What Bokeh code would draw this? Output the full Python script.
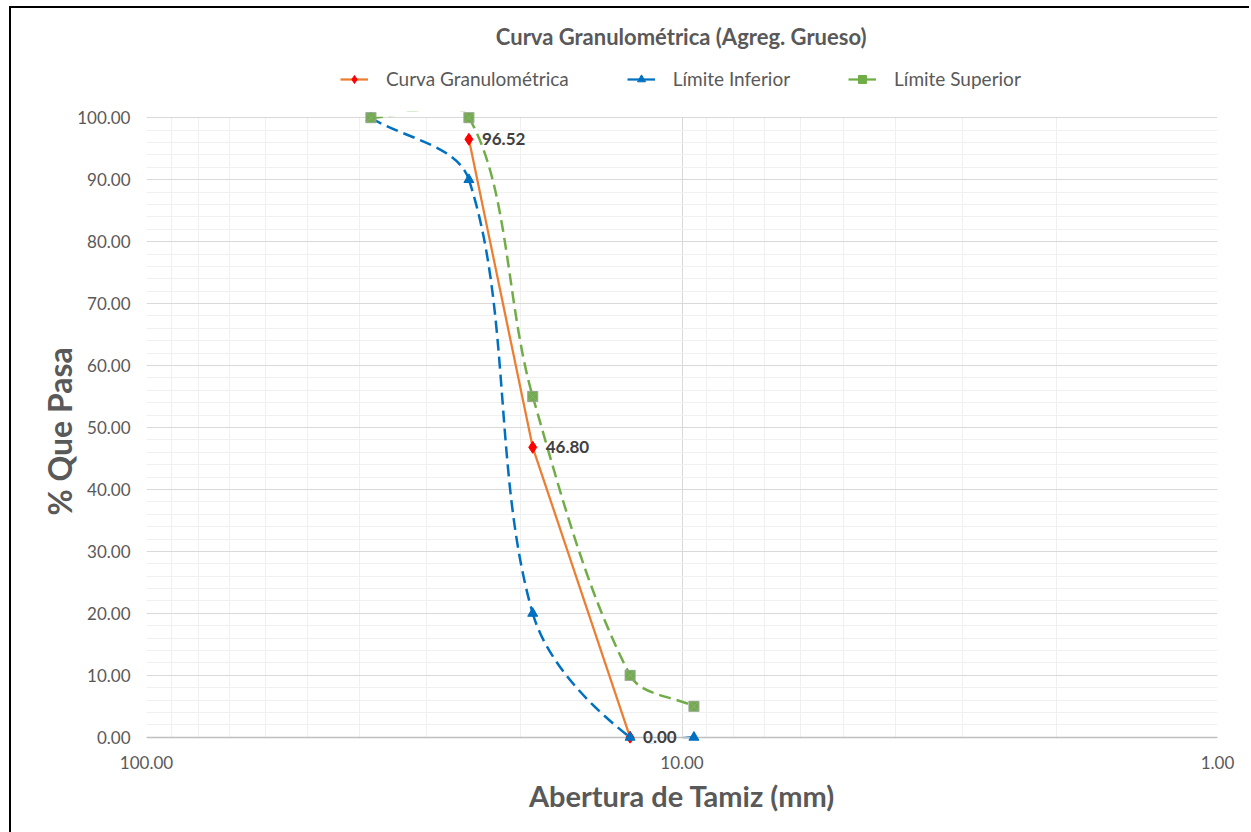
import numpy as np
from bokeh.plotting import figure
from bokeh.layouts import column
from bokeh.models import (ColumnDataSource, Range1d, LogTicker, SingleIntervalTicker,
                          PrintfTickFormatter, Legend, LegendItem, Label)
from bokeh.core.properties import value
from bokeh.embed import file_html
from bokeh.resources import INLINE

# ---------------- data ----------------
curva_x = [25.0, 19.0, 12.5]
curva_y = [96.52, 46.80, 0.00]
curva_labels = ["96.52", "46.80", "0.00"]

inf_x = [38.1, 25.0, 19.0, 12.5, 9.5]
inf_y = [100.0, 90.0, 20.0, 0.0, 0.0]

sup_x = [38.1, 25.0, 19.0, 12.5, 9.5]
sup_y = [100.0, 100.0, 55.0, 10.0, 5.0]

x_ticks = [100, 10, 1]

TITLE = "Curva Granulométrica (Agreg. Grueso)"
FONT = "Lato"
GREY = "#595959"
ORANGE = "#ED7D31"
RED = "#FF0000"
BLUE = "#0070C0"
GREEN = "#70AD47"

FRAME_W, FRAME_H = 1071, 632
Y_LO, Y_HI = -1, 101
PX_DECADE = FRAME_W / 2.0
PX_UNIT = FRAME_H / float(Y_HI - Y_LO)


def smooth_segments(xs, ys):
    """Bezier segments for a smoothed line, built in screen-proportional
    (log x, y) space with chord-length scaled tangents."""
    u = list(np.log10(np.asarray(xs, float)))
    v = list(np.asarray(ys, float))
    n = len(u)
    U = [2 * u[0] - u[1]] + u + [2 * u[-1] - u[-2]]
    V = [2 * v[0] - v[1]] + v + [2 * v[-1] - v[-2]]

    def dist(a, b):
        return np.hypot((U[a] - U[b]) * PX_DECADE, (V[a] - V[b]) * PX_UNIT)

    d = dict(x0=[], y0=[], x1=[], y1=[], cx0=[], cy0=[], cx1=[], cy1=[])
    for i in range(n - 1):
        j = i + 1
        dp, dc, dn = dist(j - 1, j), dist(j, j + 1), dist(j + 1, j + 2)
        f0 = dc / (3.0 * (dp + dc))
        f1 = dc / (3.0 * (dc + dn))
        c0u = U[j] + (U[j + 1] - U[j - 1]) * f0
        c0v = V[j] + (V[j + 1] - V[j - 1]) * f0
        c1u = U[j + 1] - (U[j + 2] - U[j]) * f1
        c1v = V[j + 1] - (V[j + 2] - V[j]) * f1
        d["x0"].append(10 ** U[j]); d["y0"].append(V[j])
        d["x1"].append(10 ** U[j + 1]); d["y1"].append(V[j + 1])
        d["cx0"].append(10 ** c0u); d["cy0"].append(c0v)
        d["cx1"].append(10 ** c1u); d["cy1"].append(c1v)
    return ColumnDataSource(d)


# ================= header (title + legend) =================
HDR_H = 93
hdr = figure(output_backend="svg", toolbar_location=None,
             width=1240, height=HDR_H, x_range=Range1d(0, 1240), y_range=Range1d(0, HDR_H),
             min_border=0, x_axis_location=None, y_axis_location=None)
hdr.grid.visible = False
hdr.outline_line_color = None
hdr.background_fill_color = "white"
hdr.border_fill_color = "white"
hdr.margin = (6, 0, 0, 9)
hdr.styles = {"border-left": "2px solid #000000", "border-top": "2px solid #000000"}

hdr.add_layout(Label(x=619, y=65, text=TITLE, text_align="center", text_baseline="middle",
                     text_font=FONT, text_font_size="22px", text_font_style="bold",
                     text_color=GREY))


def dummy():
    return ColumnDataSource(dict(x=[np.nan], y=[np.nan]))


lc = hdr.line("x", "y", source=dummy(), line_color=ORANGE, line_width=2.25)
mc = hdr.scatter("x", "y", source=dummy(), marker="diamond", size=10, fill_color=RED, line_color=RED)
li = hdr.line("x", "y", source=dummy(), line_color=BLUE, line_width=2.25)
mi = hdr.scatter("x", "y", source=dummy(), marker="triangle", size=8, fill_color=BLUE, line_color=BLUE)
ls = hdr.line("x", "y", source=dummy(), line_color=GREEN, line_width=2.25)
ms = hdr.scatter("x", "y", source=dummy(), marker="square", size=7, fill_color=GREEN, line_color=GREEN)

legend = Legend(items=[
    LegendItem(label="Curva Granulométrica", renderers=[lc, mc], index=0),
    LegendItem(label="Límite Inferior", renderers=[li, mi], index=0),
    LegendItem(label="Límite Superior", renderers=[ls, ms], index=0),
], orientation="horizontal", location=(194, 11))
legend.label_text_font = FONT
legend.label_text_font_size = "19px"
legend.label_text_color = GREY
legend.glyph_width = 28
legend.label_standoff = 18
legend.spacing = 58
legend.padding = 5
legend.margin = 0
legend.border_line_color = None
legend.background_fill_alpha = 0
hdr.add_layout(legend, "center")

# ================= main chart =================
p = figure(
    output_backend="svg", toolbar_location=None,
    x_axis_type="log",
    x_range=Range1d(100, 1), y_range=Range1d(Y_LO, Y_HI),
    width=1240, height=12 + FRAME_H + 89,
    min_border_left=135, min_border_right=34,
    min_border_top=12, min_border_bottom=89,
)
p.margin = (0, 0, 0, 9)
p.styles = {"border-left": "2px solid #000000"}
p.background_fill_color = "white"
p.border_fill_color = "white"
p.outline_line_color = None

p.xaxis.ticker = x_ticks
p.xaxis.formatter = PrintfTickFormatter(format="%.2f")
p.yaxis.ticker = SingleIntervalTicker(interval=10, num_minor_ticks=5)
p.yaxis.formatter = PrintfTickFormatter(format="%.2f")

for ax in (p.xaxis[0], p.yaxis[0]):
    ax.major_tick_line_color = None
    ax.minor_tick_line_color = None
    ax.axis_line_color = None
    ax.major_label_text_font = FONT
    ax.major_label_text_font_size = "17px"
    ax.major_label_text_color = GREY
    ax.axis_label_text_font = FONT
    ax.axis_label_text_font_style = "bold"
    ax.axis_label_text_color = GREY

p.xaxis.major_label_standoff = 6
p.yaxis.major_label_standoff = 10
p.xaxis.axis_label = "Abertura de Tamiz (mm)"
p.xaxis.axis_label_text_font_size = "29px"
p.xaxis.axis_label_standoff = 6
p.yaxis.axis_label = "% Que  Pasa"
p.yaxis.axis_label_text_font_size = "32px"
p.yaxis.axis_label_standoff = -5

p.xgrid.ticker = LogTicker(num_minor_ticks=10)
p.xgrid.grid_line_color = "#d9d9d9"
p.xgrid.minor_grid_line_color = "#f0f0f0"
p.ygrid.grid_line_color = "#d9d9d9"
p.ygrid.minor_grid_line_color = "#f0f0f0"

# lines
src_c = ColumnDataSource(dict(x=curva_x, y=curva_y, t=curva_labels))
src_i = ColumnDataSource(dict(x=inf_x, y=inf_y))
src_s = ColumnDataSource(dict(x=sup_x, y=sup_y))

p.line("x", "y", source=src_c, line_color=ORANGE, line_width=2.25)
p.bezier(x0="x0", y0="y0", x1="x1", y1="y1", cx0="cx0", cy0="cy0",
         cx1="cx1", cy1="cy1", source=smooth_segments(inf_x, inf_y),
         line_color=BLUE, line_width=2.5, line_dash="12 6")
p.bezier(x0="x0", y0="y0", x1="x1", y1="y1", cx0="cx0", cy0="cy0",
         cx1="cx1", cy1="cy1", source=smooth_segments(sup_x, sup_y),
         line_color=GREEN, line_width=2.5, line_dash="12 6")

# white masks over the thin strips outside 0..100 (the lines stop at the plot area)
p.quad(left=[100, 100], right=[1, 1], bottom=[100.15, Y_LO - 5], top=[Y_HI + 5, -0.15],
       fill_color="white", fill_alpha=1, line_color=None)
# horizontal axis line at 0
p.hspan(y=[0], line_color="#bfbfbf", line_width=1.5)

# markers
p.scatter("x", "y", source=src_c, marker="diamond", size=12, fill_color=RED, line_color=RED)
p.scatter("x", "y", source=src_i, marker="triangle", size=10, fill_color=BLUE, line_color=BLUE)
p.scatter("x", "y", source=src_s, marker="square_x", size=10,
          fill_color=GREEN, line_color="#95a58c", line_width=1)

p.text("x", "y", text="t", source=src_c, x_offset=13, text_baseline="middle",
       text_align="left", text_font=value(FONT), text_font_style="bold",
       text_font_size="17px", text_color="#404040")

layout = column(hdr, p, spacing=0)
open("out.html", "w").write(file_html(layout, INLINE))
